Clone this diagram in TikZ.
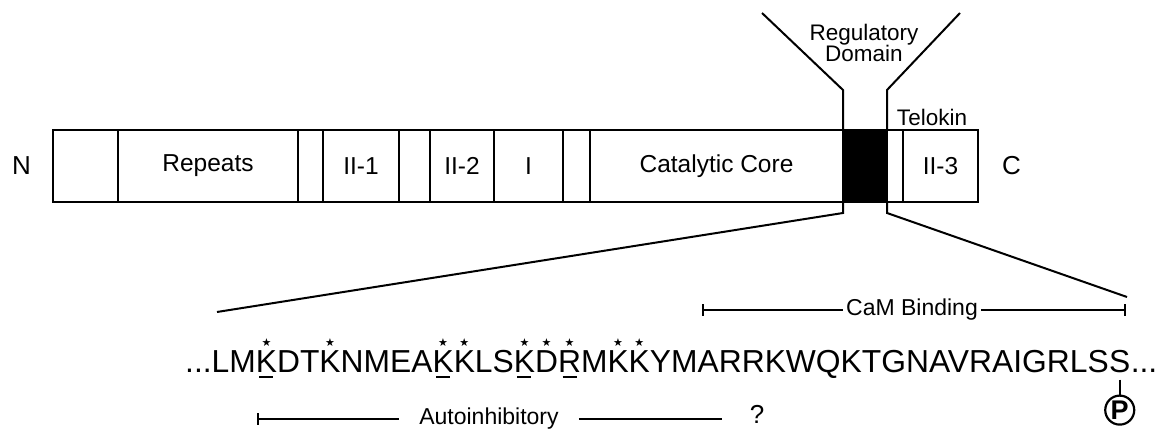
\documentclass[tikz,border=0pt]{standalone}
\usepackage{fontspec}
\setmainfont{Liberation Sans}
\newfontfamily\symfont{DejaVu Sans}
\usetikzlibrary{arrows, positioning, calc}
\newcommand{\fsz}[1]{\fontsize{#1}{#1}\selectfont}
\newcommand{\stk}[1]{\ooalign{#1\cr\hidewidth\raisebox{26pt}{\symfont\fsz{11}★}\hidewidth\cr}}
\newcommand{\ulk}[1]{\ooalign{#1\cr\hidewidth\rule[-5pt]{14pt}{2pt}\hidewidth\cr}}
\tikzset{%
	seg/.style={draw, rectangle, line width=2.2pt, minimum height=72pt, inner sep=0pt,%
		outer sep=0pt, font=\fsz{24.5}},
	regbox/.style={seg, fill=black},
	endlbl/.style={inner sep=0pt, font=\fsz{26}},
	toplbl/.style={inner sep=0pt, font=\fsz{22.5}, align=center},
	seq/.style={inner sep=0pt, anchor=base west, font=\fsz{31.8}},
	spanlbl/.style={inner ysep=0pt, font=\fsz{23}},
	guide/.style={line width=2pt},
	span/.style={line width=2pt},
	phos/.style={draw, circle, line width=2.2pt, minimum size=29pt, inner sep=0pt, font=\fsz{27}\bfseries}
}
\begin{document}
\begin{tikzpicture}[x=1pt, y=-1pt]
	\useasboundingbox (0,0) rectangle (1160,430);

	\node[seg, minimum width=65pt, anchor=north west] (blank1) at (53,130) {};
	\node[seg, minimum width=180pt, right=0pt of blank1] (rep) {Repeats};
	\node[seg, minimum width=25pt, right=0pt of rep] (gap1) {};
	\node[seg, minimum width=76pt, right=0pt of gap1] (ii1) {II-1};
	\node[seg, minimum width=31pt, right=0pt of ii1] (gap2) {};
	\node[seg, minimum width=64pt, right=0pt of gap2] (ii2) {II-2};
	\node[seg, minimum width=69pt, right=0pt of ii2] (i1) {I};
	\node[seg, minimum width=27pt, right=0pt of i1] (gap3) {};
	\node[seg, minimum width=253pt, right=0pt of gap3] (cat) {Catalytic Core};
	\node[regbox, minimum width=44pt, right=0pt of cat] (reg) {};
	\node[seg, minimum width=16pt, right=0pt of reg] (gap4) {};
	\node[seg, minimum width=75pt, right=0pt of gap4] (ii3) {II-3};

	\node[endlbl, left=22pt of blank1] (nterm) {N};
	\node[endlbl, right=24pt of ii3] (cterm) {C};
	\node[toplbl, anchor=base] (telo) at (932,126) {Telokin};
	\node[toplbl] (regdom) at (864,43) {Regulatory\\[-1pt]Domain};

	\coordinate (fl) at (762,13);
	\coordinate (fr) at (960,13);
	\coordinate (lo) at (217,312);
	\coordinate (ro) at (1127,297);
	\draw[guide] (fl) -- ($(reg.north west)+(0,-40)$) -- (reg.north west);
	\draw[guide] (fr) -- ($(reg.north east)+(0,-40)$) -- (reg.north east);
	\draw[guide] (reg.south west) -- ($(reg.south west)+(0,11)$) -- (lo);
	\draw[guide] (reg.south east) -- ($(reg.south east)+(0,11)$) -- (ro);

	\node[seq] (seqa) at (185,373) {...LM\stk{\ulk{K}}DT\stk{K}NMEA\stk{\ulk{K}}\stk{K}LS\stk{\ulk{K}}\stk{D}\stk{\ulk{R}}M\stk{K}\stk{K}YMARRKWQKTGNAVRAIGRLS};
	\node[seq, base right=0pt of seqa] (lastS) {S};
	\node[seq, base right=0pt of lastS] (tail) {...};
	\node[phos, below=21pt of lastS] (pser) {P};
	\draw[span, shorten <=6pt] (lastS) -- (pser);

	\coordinate (cam0) at (702,310);
	\coordinate (cam1) at (1126,310);
	\node[spanlbl, inner xsep=3pt] (camlab) at (912,310) {CaM Binding};
	\draw[span, |-] (cam0) -- (camlab);
	\draw[span, -|] (camlab) -- (cam1);

	\coordinate (ai0) at (257,419);
	\coordinate (ai1) at (722,419);
	\node[spanlbl, inner xsep=20pt] (ailab) at (489,419) {Autoinhibitory};
	\draw[span, |-] (ai0) -- (ailab);
	\draw[span] (ailab) -- (ai1);
	\node[endlbl] (qm) at (757,414) {?};
\end{tikzpicture}
\end{document}
